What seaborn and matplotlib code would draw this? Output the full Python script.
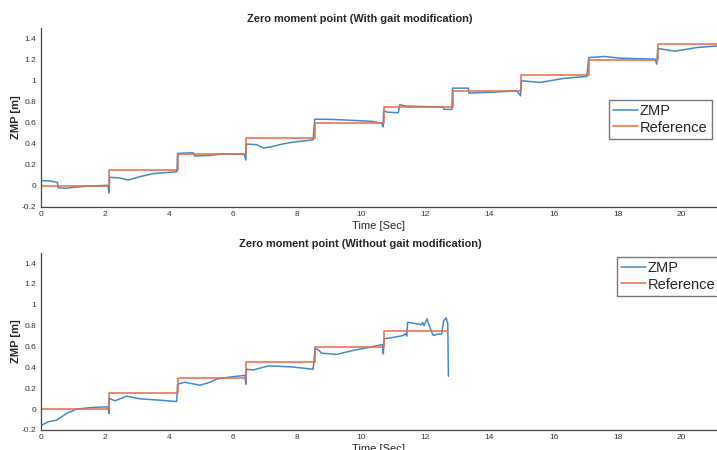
import numpy as np
import pandas as pd
import seaborn as sns
import matplotlib
matplotlib.use("Agg")
import matplotlib.pyplot as plt

# ---------------- data ----------------
ref_top_t = [0, 2.13, 4.27, 6.41, 8.55, 10.70, 12.85, 14.98, 17.10, 19.26, 21.2]
ref_top_v = [0, 0.15, 0.30, 0.45, 0.60, 0.75, 0.90, 1.05, 1.20, 1.35, 1.35]

zmp_top_t = [0, 0.3, 0.52, 0.55, 0.8, 1.0, 1.5, 2.1, 2.13, 2.15, 2.47, 2.73, 3.1, 3.5,
             4.0, 4.25, 4.27, 4.76, 4.8, 5.28, 5.7, 6.35, 6.4, 6.42, 6.74, 6.95, 7.16,
             7.57, 7.88, 8.5, 8.55, 8.91, 9.5, 10.0, 10.38, 10.64, 10.68, 10.7, 10.8,
             11.16, 11.2, 11.4, 12.56, 12.58, 12.83, 12.85, 13.34, 13.36, 13.7, 14.12,
             14.85, 14.97, 15.0, 15.58, 16.31, 17.04, 17.1, 17.6, 18.07, 19.17, 19.22,
             19.25, 19.79, 20.47, 21.1]
zmp_top_v = [0.048, 0.045, 0.03, -0.02, -0.025, -0.016, -0.003, 0.003, -0.07, 0.08,
             0.073, 0.054, 0.086, 0.114, 0.127, 0.133, 0.307, 0.313, 0.282, 0.288,
             0.304, 0.298, 0.244, 0.396, 0.39, 0.358, 0.368, 0.398, 0.414, 0.437,
             0.632, 0.632, 0.625, 0.617, 0.611, 0.592, 0.56, 0.713, 0.70, 0.694, 0.77,
             0.757, 0.748, 0.726, 0.726, 0.928, 0.928, 0.88, 0.885, 0.89, 0.903, 0.855,
             0.998, 0.982, 1.02, 1.04, 1.219, 1.229, 1.213, 1.204, 1.156, 1.305, 1.28,
             1.314, 1.33]

ref_bot_t = [0, 2.13, 4.27, 6.41, 8.55, 10.70, 12.70]
ref_bot_v = [0, 0.15, 0.30, 0.45, 0.60, 0.75, 0.75]

zmp_bot_t = [0, 0.05, 0.24, 0.5, 0.81, 1.12, 1.59, 2.1, 2.13, 2.14, 2.32, 2.68, 3.1,
             3.72, 4.24, 4.27, 4.5, 4.97, 5.28, 5.5, 5.91, 6.37, 6.4, 6.42, 6.63, 7.1,
             7.3, 7.88, 8.5, 8.56, 8.66, 8.76, 9.24, 9.75, 10.27, 10.67, 10.69, 10.71,
             10.95, 11.31, 11.38, 11.42, 11.45, 11.73, 11.88, 11.92, 11.96, 12.05, 12.1,
             12.2, 12.25, 12.4, 12.51, 12.57, 12.65, 12.7, 12.72]
zmp_bot_v = [-0.17, -0.15, -0.121, -0.105, -0.041, 0.0, 0.016, 0.022, -0.04, 0.102,
             0.08, 0.124, 0.099, 0.086, 0.073, 0.239, 0.258, 0.229, 0.258, 0.289,
             0.308, 0.324, 0.239, 0.382, 0.376, 0.414, 0.413, 0.404, 0.382, 0.579,
             0.57, 0.537, 0.525, 0.563, 0.594, 0.62, 0.53, 0.675, 0.685, 0.706, 0.725,
             0.70, 0.833, 0.818, 0.81, 0.83, 0.80, 0.865, 0.82, 0.738, 0.706, 0.72,
             0.72, 0.846, 0.875, 0.818, 0.315]

titles = ["Zero moment point (With gait modification)",
          "Zero moment point (Without gait modification)"]
x_ticks = list(range(0, 21, 2))
y_ticks = [-0.2, 0, 0.2, 0.4, 0.6, 0.8, 1.0, 1.2, 1.4]
y_tick_labels = ["-0.2", "0", "0.2", "0.4", "0.6", "0.8", "1", "1.2", "1.4"]

# ---------------- plot ----------------
sns.set_theme(style="white")
plt.rcParams['font.family'] = ['Liberation Sans', 'DejaVu Sans']

W, H = 717, 450
fig = plt.figure(figsize=(W / 100, H / 100), dpi=100)

blue = "#4289cf"
orange = "#e96a45"

panels = [
    (zmp_top_t, zmp_top_v, ref_top_t, ref_top_v, titles[0], (40.7, 28, 717, 206.7), (609, 100)),
    (zmp_bot_t, zmp_bot_v, ref_bot_t, ref_bot_v, titles[1], (40.7, 252.7, 717, 430), (617, 257)),
]

for zt, zv, rt, rv, title, (l, t, r, b), (lgx, lgy) in panels:
    ax = fig.add_axes([l / W, 1 - b / H, (r - l) / W, (b - t) / H])
    sns.lineplot(x=zt, y=zv, ax=ax, color=blue, lw=1.1, estimator=None, sort=False,
                 label="ZMP")
    sns.lineplot(x=rt, y=rv, ax=ax, color=orange, lw=1.1, estimator=None, sort=False,
                 drawstyle="steps-post", label="Reference")
    ax.set_xlim(0, 21.1)
    ax.set_ylim(-0.2, 1.5)
    ax.set_xticks(x_ticks)
    ax.set_xticklabels([str(v) for v in x_ticks])
    ax.set_yticks(y_ticks)
    ax.set_yticklabels(y_tick_labels)
    ax.tick_params(direction="in", length=4, width=0.8, labelsize=6,
                   colors="#333333", pad=3)
    for s in ["top", "right"]:
        ax.spines[s].set_visible(False)
    for s in ["left", "bottom"]:
        ax.spines[s].set_color("#444444")
        ax.spines[s].set_linewidth(0.9)
    ax.set_title(title, fontsize=7.9, fontweight="bold", x=(360 - l) / (r - l), pad=4)
    ax.set_xlabel("Time [Sec]", fontsize=8, labelpad=2)
    ax.set_ylabel("ZMP [m]", fontsize=8, fontweight="bold", labelpad=1)
    ax.set_facecolor("white")
    leg = ax.legend(loc="upper left", bbox_to_anchor=(lgx / W, 1 - lgy / H),
                    bbox_transform=fig.transFigure, fontsize=10.5, frameon=True,
                    fancybox=False, handlelength=1.7, handletextpad=0.1,
                    borderpad=0.3, labelspacing=0.15, borderaxespad=0)
    leg.get_frame().set_edgecolor("#555555")
    leg.get_frame().set_linewidth(1.0)

fig.savefig("out.png", dpi=100, facecolor="white")
